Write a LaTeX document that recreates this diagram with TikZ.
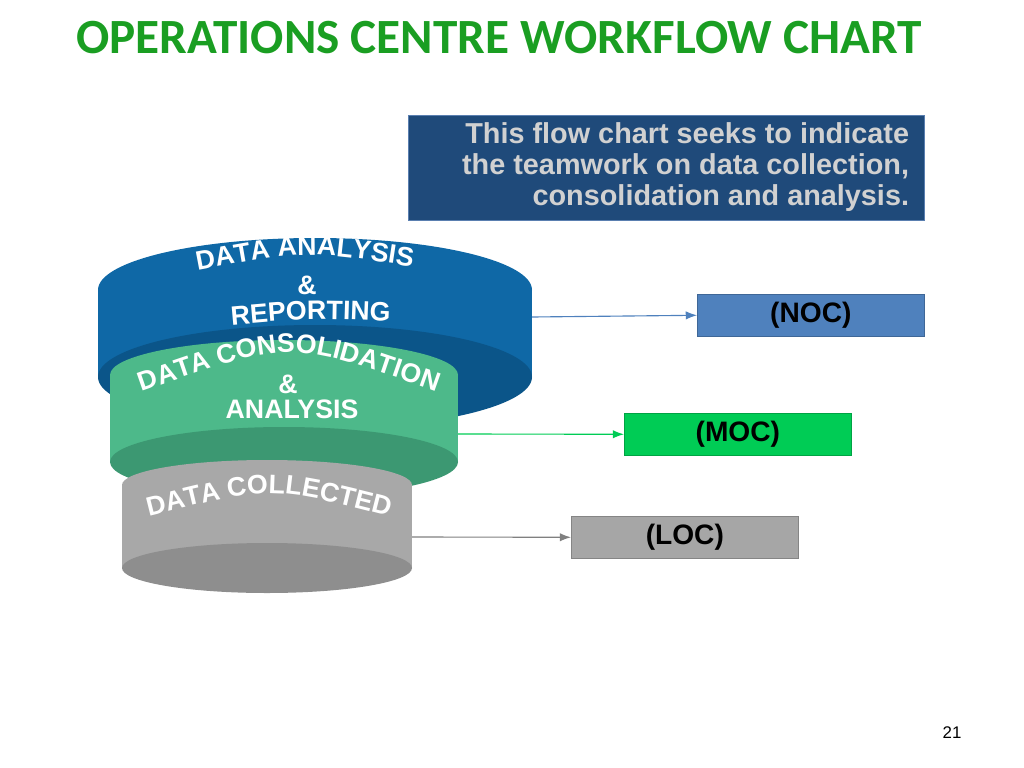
\documentclass[tikz,border=0pt]{standalone}
\usepackage{fontspec}
\setmainfont{Liberation Sans}
\newfontfamily\titlefont{Carlito}
\usetikzlibrary{arrows.meta,positioning,decorations.text}
\definecolor{titlegreen}{HTML}{1A9E22}
\definecolor{boxblue}{HTML}{1F4A7A}
\definecolor{boxline}{HTML}{5A7FB0}
\definecolor{cylblue}{HTML}{0F68A6}
\definecolor{cylbluedk}{HTML}{0B5589}
\definecolor{cylgreen}{HTML}{4DB98A}
\definecolor{cylgreendk}{HTML}{3C9872}
\definecolor{cylgray}{HTML}{A8A8A8}
\definecolor{cylgraydk}{HTML}{8E8E8E}
\definecolor{nocblue}{HTML}{4F81BD}
\definecolor{mocgreen}{HTML}{00CC55}
\definecolor{locgray}{HTML}{A6A6A6}
% cylinder: cx, top y, bottom y, rx, ry, colour, dark colour
\newcommand{\cylinder}[7]{%
  \fill[#6] (#1,#2) ellipse [x radius={#4*0.025cm}, y radius={#5*0.025cm}];
  \fill[#6] (#1-#4,#2) rectangle (#1+#4,#3);
  \fill[#7] (#1,#3) ellipse [x radius={#4*0.025cm}, y radius={#5*0.025cm}];
}
\newcommand{\bandfont}{\bfseries\fontsize{19}{19}\selectfont}
\begin{document}
\begin{tikzpicture}
[x=0.025cm,y=-0.025cm,
levelbox/.style={minimum width=5.675cm,minimum height=1.05cm,inner sep=0pt,
  font=\bfseries\fontsize{20}{20}\selectfont},
curvetext/.style={decorate,decoration={text along path,text align=center,
  text color=white}},
bandtext/.style={text=white,font=\bandfont},
flow/.style={thick,-{Latex[length=8pt,width=6pt]}}]
\useasboundingbox (0,0) rectangle (1024,768);
%%
% title and note
\node[text=titlegreen,font=\titlefont\bfseries\fontsize{35}{36}\selectfont] (title) at (499,38) {OPERATIONS CENTRE WORKFLOW CHART};
\node[fill=boxblue,draw=boxline,minimum width=12.9cm,minimum height=2.62cm,anchor=north west] (note) at (408,115) {};
\node[anchor=east,align=right,text=white!82!black,font=\bfseries\fontsize{20.5}{22}\selectfont] (notetext) at (914,167)
  {This flow chart seeks to indicate\\the teamwork on data collection,\\consolidation and analysis.};
%%
% stacked cylinders
\cylinder{315}{290}{377}{217}{52}{cylblue}{cylbluedk}
\cylinder{284}{375}{462}{174}{35}{cylgreen}{cylgreendk}
\cylinder{267}{485}{568}{145}{25}{cylgray}{cylgraydk}
%%
% texts on the cylinders
\path[curvetext,decoration={text={|\bandfont|DATA ANALYSIS}}]
  (190,272) .. controls (305,250) .. (420,268);
\node[bandtext] (amp1) at (307,285) {\&};
\path[curvetext,decoration={text={|\bandfont|REPORTING}}]
  (222,326) .. controls (312,318) .. (400,322);
\path[curvetext,decoration={text={|\bandfont|DATA CONSOLIDATION}}]
  (146,390) .. controls (290,340) .. (432,390);
\node[bandtext] (amp2) at (288,384) {\&};
\node[bandtext,anchor=base] (analysis) at (292,418) {ANALYSIS};
\path[curvetext,decoration={text={|\bandfont|DATA COLLECTED}}]
  (150,516) .. controls (270,486) .. (388,516);
%%
% centre boxes
\node[levelbox,fill=nocblue,draw=nocblue!80!black,anchor=north west] (noc) at (697,294) {(NOC)};
\node[levelbox,fill=mocgreen,draw=mocgreen!80!black,anchor=north west] (moc) at (624,413) {(MOC)};
\node[levelbox,fill=locgray,draw=locgray!80!black,anchor=north west] (loc) at (571,516) {(LOC)};
%%
\coordinate (blueside) at (532,317);
\coordinate (greenside) at (458,434);
\coordinate (grayside) at (412,537);
\draw[flow,nocblue] (blueside) -- (noc.west);
\draw[flow,mocgreen] (greenside) -- (moc.west);
\draw[flow,gray] (grayside) -- (loc.west);
%%
\node[font=\fontsize{12}{12}\selectfont] (page) at (952,733) {21};
\end{tikzpicture}
\end{document}
